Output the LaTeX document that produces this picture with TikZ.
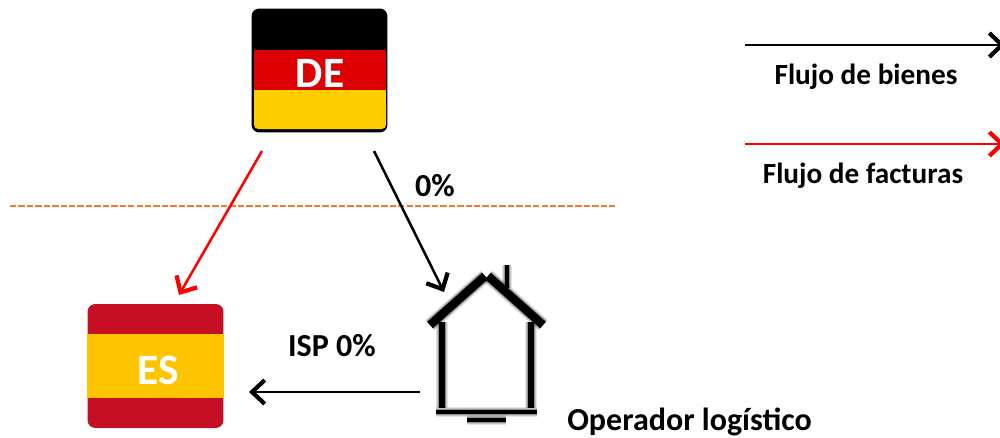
\documentclass[tikz,border=0pt]{standalone}
\usepackage{fontspec}
\setmainfont{Carlito}
\usepackage{tikz}
\usetikzlibrary{arrows.meta}
\definecolor{deRed}{HTML}{DD0000}
\definecolor{deGold}{HTML}{FFCE00}
\definecolor{esRed}{HTML}{C60F25}
\definecolor{esGold}{HTML}{FFC400}
\definecolor{borderOrange}{HTML}{ED7D31}
\tikzset{
  flow/.style={line width=1.8pt,-{Straight Barb[length=9pt,width=17pt,line width=3pt]}},
  txt/.style={font=\fontsize{20.8}{24}\selectfont\bfseries,inner sep=0pt},
  bigtxt/.style={font=\fontsize{22.8}{26}\selectfont\bfseries,inner sep=0pt},
  flagtxt/.style={font=\fontsize{30.8}{34}\selectfont\bfseries,text=white,inner sep=0pt},
  flagbox/.style={rounded corners=5.5pt,inner sep=0pt,minimum width=136*0.711pt,minimum height=124*0.711pt},
  roofline/.style={line width=6pt},
  wallline/.style={line width=4.2pt},
  baseline/.style={line width=2.9pt}
}
\begin{document}
\begin{tikzpicture}[x=0.025cm,y=-0.025cm]
  \useasboundingbox (0,0) rectangle (1000,437);
  % flags
  \node[flagbox,fill=black] (de) at (319.5,70.5) {};
  \fill[deRed] (254,50) rectangle (386,90);
  \fill[deGold] (254,90) rectangle (386,115);
  \fill[deGold,rounded corners=3pt] (254,100) rectangle (386,129);
  \node[flagtxt] (deText) at (320,73) {DE};
  \node[flagbox,fill=esRed] (es) at (155.5,366) {};
  \fill[esGold] (es.west |- 0,333.5) rectangle (es.east |- 0,398);
  \node[flagtxt] (esText) at (158,370) {ES};
  % border
  \coordinate (borderL) at (10,206);
  \coordinate (borderR) at (617,206);
  \draw[borderOrange,line width=1.7pt,dash pattern=on 4.5pt off 1.5pt] (borderL) -- (borderR);
  % house
  \foreach \w/\o in {4pt/0.1,2.6pt/0.15,1.3pt/0.25,0pt/1}{
    \begin{scope}[opacity=\o,line cap=butt]
      \draw[roofline,line width=6pt+\w] (430,325) -- (485,276);
      \draw[roofline,line width=6pt+\w] (488,276) -- (543,325);
      \draw[wallline,line width=4.2pt+\w] (442,322) -- (442,408);
      \draw[wallline,line width=4.2pt+\w] (531,322) -- (531,408);
      \draw[wallline,line width=3.5pt+\w] (507,265) -- (507,288);
      \draw[baseline,line width=2.9pt+\w] (436,412) -- (537,412);
      \draw[baseline,line width=2.9pt+\w] (467,420) -- (506,420);
    \end{scope}
  }
  % flows
  \coordinate (deR) at (262,151);
  \coordinate (esT) at (179,295);
  \coordinate (deB) at (374,151);
  \coordinate (hoT) at (444,292);
  \coordinate (hoL) at (420,392);
  \coordinate (esR) at (249,392);
  \draw[flow,red] (deR) -- (esT);
  \draw[flow] (deB) -- (hoT);
  \draw[flow] (hoL) -- (esR);
  \node[bigtxt] (vat) at (435,186) {0\%};
  \node[bigtxt] (isp) at (332,346) {ISP 0\%};
  \node[bigtxt,anchor=west] (op) at (567,422) {Operador logístico};
  % legend
  \coordinate (goodsL) at (745,45);
  \coordinate (goodsR) at (1005,45);
  \coordinate (billsL) at (745,144);
  \coordinate (billsR) at (1005,144);
  \draw[flow] (goodsL) -- (goodsR);
  \draw[flow,red] (billsL) -- (billsR);
  \node[txt] (goods) at (866,77) {Flujo de bienes};
  \node[txt] (bills) at (863,176) {Flujo de facturas};
\end{tikzpicture}
\end{document}
